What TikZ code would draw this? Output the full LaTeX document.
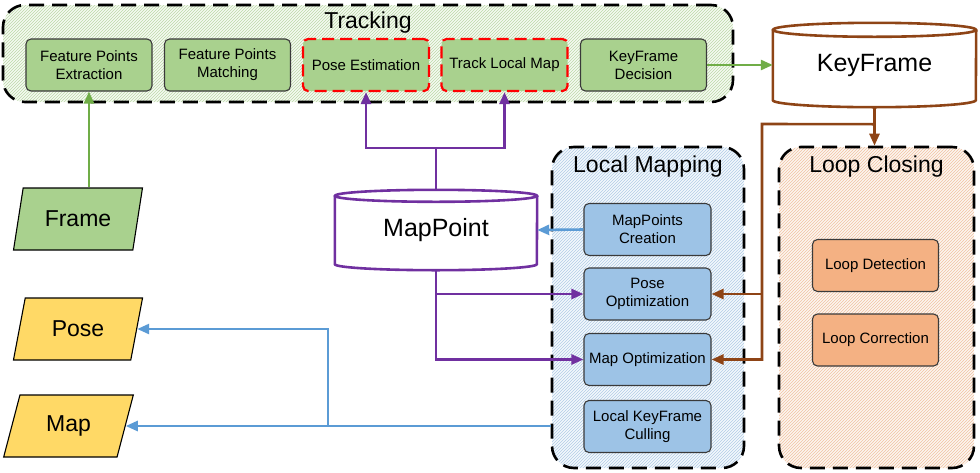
\documentclass[tikz,border=0pt]{standalone}
\usepackage{fontspec}
\setmainfont{Liberation Sans}
\usetikzlibrary{arrows.meta,shapes.geometric,patterns,calc}
\definecolor{gfill}{HTML}{A9D18E}
\definecolor{gline}{HTML}{70AD47}
\definecolor{yfill}{HTML}{FFD966}
\definecolor{bfill}{HTML}{9DC3E6}
\definecolor{bline}{HTML}{5B9BD5}
\definecolor{ofill}{HTML}{F4B183}
\definecolor{pline}{HTML}{7030A0}
\definecolor{brline}{HTML}{8E4416}
\definecolor{boxborder}{HTML}{3A3A3A}
\definecolor{tpale}{HTML}{F5FAF2}
\definecolor{thatch}{HTML}{BCD8A8}
\definecolor{lpale}{HTML}{F3F8FC}
\definecolor{lhatch}{HTML}{B2CCE6}
\definecolor{cpale}{HTML}{FDF6F0}
\definecolor{chatch}{HTML}{F0C2A2}
\begin{document}
\begin{tikzpicture}[x=1pt,y=1pt,
  box/.style={draw=boxborder, line width=1.1pt, rounded corners=5pt,
    minimum width=126pt, minimum height=52pt, inner sep=2pt, align=center,
    font=\fontsize{15}{18}\selectfont},
  gbox/.style={box, fill=gfill},
  rbox/.style={box, fill=gfill, draw=red, line width=2.2pt, dash pattern=on 12pt off 6pt},
  bbox/.style={box, fill=bfill, minimum width=127pt},
  obox/.style={box, fill=ofill},
  group/.style={draw=black, line width=2.6pt, dash pattern=on 15pt off 8pt,
    rounded corners=22pt, inner sep=0pt},
  grtitle/.style={anchor=base, font=\fontsize{23}{26}\selectfont},
  para/.style={trapezium, trapezium left angle=70, trapezium right angle=110,
    trapezium stretches=true, minimum width=130pt, minimum height=62pt,
    inner sep=0pt, draw=black, line width=1.1pt, font=\fontsize{23}{26}\selectfont},
  cylnode/.style={inner sep=0pt, font=\fontsize{25}{28}\selectfont},
  tip/.style={-{Triangle[length=12pt,width=10pt]}},
  garrow/.style={draw=gline, line width=2.6pt, tip},
  barrow/.style={draw=bline, line width=2.6pt, tip},
  parrow/.style={draw=pline, line width=2.6pt, tip},
  plinest/.style={draw=pline, line width=2.6pt},
  brarrow/.style={draw=brline, line width=2.6pt, tip},
]
\useasboundingbox (0,0) rectangle (980,-472);

% group boxes
\node[group, preaction={fill=tpale}, pattern=north east lines, pattern color=thatch,
  minimum width=730pt, minimum height=97pt] (track) at (368,-53.5) {};
\node[grtitle] (tracktitle) at (368,-28) {Tracking};
\node[group, preaction={fill=lpale}, pattern=north east lines, pattern color=lhatch,
  minimum width=192pt, minimum height=321pt] (lm) at (648,-307.5) {};
\node[grtitle] (lmtitle) at (648,-172) {Local Mapping};
\node[group, preaction={fill=cpale}, pattern=north east lines, pattern color=chatch,
  minimum width=195pt, minimum height=321pt] (lc) at (876.5,-307.5) {};
\node[grtitle] (lctitle) at (876.5,-172) {Loop Closing};

% tracking nodes
\node[gbox] (fpe) at (89,-65) {Feature Points\\Extraction};
\node[gbox] (fpm) at (227.5,-65) {Feature Points\\Matching};
\node[rbox] (pe) at (366,-65) {Pose Estimation};
\node[rbox] (tlm) at (504.5,-65) {Track Local Map};
\node[gbox] (kfd) at (643.5,-65) {KeyFrame\\Decision};

% local mapping nodes
\node[bbox] (mpc) at (647.5,-229.5) {MapPoints\\Creation};
\node[bbox] (po) at (647.5,-294) {Pose\\Optimization};
\node[bbox] (mo) at (647.5,-359.5) {Map Optimization};
\node[bbox] (lkc) at (647.5,-426.5) {Local KeyFrame\\Culling};

% loop closing nodes
\node[obox] (ld) at (875.5,-265.5) {Loop Detection};
\node[obox] (lcr) at (875.5,-340) {Loop Correction};

% parallelograms
\node[para, fill=gfill] (frame) at (78,-219) {Frame};
\node[para, fill=yfill] (pose) at (78,-329) {Pose};
\node[para, fill=yfill] (map) at (68.5,-426) {Map};

% cylinders
\node[cylnode, minimum width=203pt, minimum height=84pt] (kf) at (874.5,-65) {KeyFrame};
\draw[brline, line width=2.6pt]
  ($(kf.north west)+(0,-7pt)$) -- ($(kf.south west)+(0,7pt)$)
  arc[start angle=180, end angle=360, x radius=101.5pt, y radius=7pt]
  -- ($(kf.north east)+(0,-7pt)$);
\draw[brline, line width=2.6pt] ($(kf.north)+(0,-7pt)$) ellipse[x radius=101.5pt, y radius=7pt];

\node[cylnode, minimum width=202pt, minimum height=80pt] (mp) at (436,-230) {MapPoint};
\draw[pline, line width=2.6pt]
  ($(mp.north west)+(0,-6pt)$) -- ($(mp.south west)+(0,6pt)$)
  arc[start angle=180, end angle=360, x radius=101pt, y radius=6pt]
  -- ($(mp.north east)+(0,-6pt)$);
\draw[pline, line width=2.6pt] ($(mp.north)+(0,-6pt)$) ellipse[x radius=101pt, y radius=6pt];

% connectors
\draw[garrow] (fpe.south |- frame.north) -- (fpe.south);
\draw[garrow] (kfd.east) -- (kf.west);

\coordinate (kfj) at ($(kf.south)+(0,-17pt)$);
\coordinate (bv) at (762,-124);
\draw[brarrow] (kf.south) -- (kf.south |- lc.north);
\draw[brarrow] (kfj) -- (bv) -- (bv |- mo.east) -- (mo.east);
\draw[brarrow] (bv |- po.east) -- (po.east);

\coordinate (pj) at ($(mp.north)+(0,42pt)$);
\draw[plinest, {Triangle[length=12pt,width=10pt]}-{Triangle[length=12pt,width=10pt]}]
  (pe.south) -- (pe.south |- pj) -- (tlm.south |- pj) -- (tlm.south);
\draw[plinest] (mp.north) -- (pj);
\draw[parrow] (mp.south) -- (mp.south |- mo.west) -- (mo.west);
\draw[parrow] (mp.south |- po.west) -- (po.west);

\draw[barrow] (mpc.west) -- (mp.east);
\coordinate (bx) at (328,-426);
\draw[barrow] (lm.west |- map.east) -- (map.east);
\draw[barrow] (bx |- map.east) -- (bx |- pose.east) -- (pose.east);
\end{tikzpicture}
\end{document}
